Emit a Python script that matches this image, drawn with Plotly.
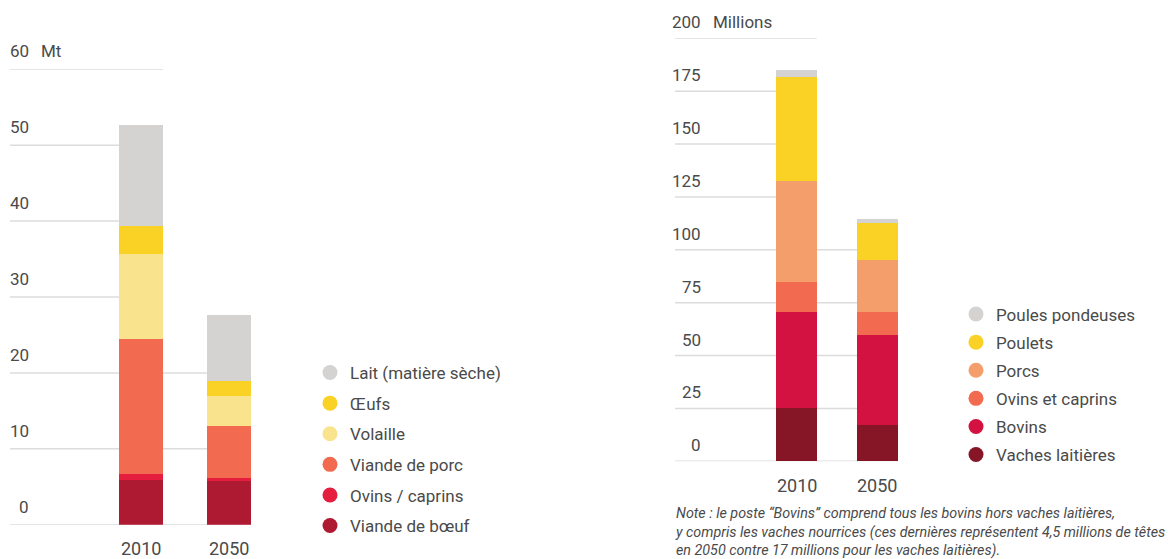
import plotly.graph_objects as go

# --- data -------------------------------------------------------------
years = ["2010", "2050"]

# left panel: production, Mt
prod_names = ["Viande de bœuf", "Ovins / caprins", "Viande de porc",
              "Volaille", "Œufs", "Lait (matière sèche)"]
beef = [5.9, 5.8]
sheep_goat = [0.8, 0.3]
pork = [17.8, 6.9]
poultry = [11.2, 3.9]
eggs = [3.6, 2.0]
milk = [13.3, 8.7]
prod_values = [beef, sheep_goat, pork, poultry, eggs, milk]
prod_ticks = [0, 10, 20, 30, 40, 50, 60]
prod_unit = "Mt"

# right panel: herd size, millions of heads
herd_names = ["Vaches laitières", "Bovins", "Ovins et caprins",
              "Porcs", "Poulets", "Poules pondeuses"]
dairy_cows = [25.0, 17.0]
cattle = [45.5, 42.5]
sheep_goats = [14.5, 11.0]
pigs = [47.5, 24.5]
chickens = [49.0, 17.5]
hens = [3.5, 2.0]
herd_values = [dairy_cows, cattle, sheep_goats, pigs, chickens, hens]
herd_ticks = [0, 25, 50, 75, 100, 125, 150, 175, 200]
herd_unit = "Millions"

note = ("Note : le poste “Bovins” comprend tous les bovins hors vaches laitières,<br>"
        "y compris les vaches nourrices (ces dernières représentent 4,5 millions de têtes<br>"
        "en 2050 contre 17 millions pour les vaches laitières).")

# --- style ------------------------------------------------------------
prod_colors = ["#ae1a32", "#e51d3f", "#f26a4f", "#f9e48d", "#f9d225", "#d5d3d1"]
herd_colors = ["#861626", "#d31242", "#f26a4f", "#f49e6c", "#f9d225", "#d5d3d1"]
FONT = "Roboto, Liberation Sans, sans-serif"
TXT = "#4a4a4a"
GRID = "#dcdcdc"
W, H = 1168, 559
BAR_W = 0.5


def px(x):
    return x / W


def py(y):
    return 1 - y / H


fig = go.Figure()


def add_panel(names, values, colors, ticks, unit, xa, ya, legend, xr, label_x, shift):
    totals = [sum(v[i] for v in values) for i in range(len(years))]
    for name, vals, col in zip(names, values, colors):
        fig.add_trace(go.Bar(x=years, y=vals, name=name, marker=dict(color=col, line_width=0),
                             width=BAR_W, showlegend=False, xaxis=xa, yaxis=ya,
                             hoverinfo="x+y+name"))
    # legend entries with round markers, listed top of stack first
    for name, col in reversed(list(zip(names, colors))):
        fig.add_trace(go.Scatter(x=[None], y=[None], mode="markers", name=name,
                                 marker=dict(size=15, color=col), legend=legend,
                                 legendgroup=name, xaxis=xa, yaxis=ya))
    xref = xa
    yref = ya.replace("axis", "")
    # gridlines stop at the tallest bar that still reaches them
    for t in ticks:
        if t == 0:
            x1 = len(years) - 1 + BAR_W / 2
        else:
            reach = [i for i, tot in enumerate(totals) if tot > t]
            x1 = reach[-1] if reach else BAR_W / 2
        fig.add_shape(type="line", xref=xref, yref=yref, x0=xr[0], x1=x1, y0=t, y1=t,
                      layer="below", line=dict(color=GRID, width=1.5))
        fig.add_annotation(xref="paper", yref=yref, x=label_x, y=t, text=str(t),
                           xanchor="right", yanchor="middle", yshift=shift,
                           showarrow=False, font=dict(size=17, color=TXT, family=FONT))
    fig.add_annotation(xref="paper", yref=yref, x=label_x + px(8), y=ticks[-1], text=unit,
                       xanchor="left", yanchor="middle", yshift=shift,
                       showarrow=False, font=dict(size=17, color=TXT, family=FONT))
    for i, yr in enumerate(years):
        fig.add_annotation(xref=xref, yref=yref, x=i, y=0, text=yr, yshift=-24,
                           xanchor="center", yanchor="middle", showarrow=False,
                           font=dict(size=18, color=TXT, family=FONT))


left_xr = [-1.489, 1.5]
right_xr = [-1.504, 1.5]
add_panel(prod_names, prod_values, prod_colors, prod_ticks, prod_unit,
          "x", "y", "legend", left_xr, px(31), 18)
add_panel(herd_names, herd_values, herd_colors, herd_ticks, herd_unit,
          "x2", "y2", "legend2", right_xr, px(703), 16)

fig.add_annotation(xref="paper", yref="paper", x=px(673), y=py(503), text="<i>" + note + "</i>",
                   xanchor="left", yanchor="top", align="left", showarrow=False,
                   font=dict(size=14.3, color=TXT, family=FONT))

axis_common = dict(showgrid=False, zeroline=False, showticklabels=False, showline=False,
                   fixedrange=True)
legend_common = dict(font=dict(size=17, color=TXT, family=FONT), bgcolor="rgba(0,0,0,0)",
                     traceorder="grouped", itemclick=False,
                     itemdoubleclick=False, xanchor="left", yanchor="top")

fig.update_layout(
    width=W, height=H, margin=dict(l=0, r=0, t=0, b=0),
    paper_bgcolor="white", plot_bgcolor="white",
    barmode="stack", bargap=0.5,
    font=dict(family=FONT, color=TXT),
    xaxis=dict(domain=[px(10), px(273)], range=left_xr, type="category", **axis_common),
    yaxis=dict(domain=[py(524.7), py(69.3)], range=[0, 60], **axis_common),
    xaxis2=dict(domain=[px(675), px(917.7)], range=right_xr, type="category", anchor="y2",
                **axis_common),
    yaxis2=dict(domain=[py(461.3), py(38.3)], range=[0, 200], anchor="x2", **axis_common),
    legend=dict(x=px(310), y=py(355), tracegroupgap=5.5, **legend_common),
    legend2=dict(x=px(956), y=py(296.5), tracegroupgap=3, **legend_common),
)

fig.write_html("out.html", config={"displayModeBar": False},
               post_script="document.body.style.margin = '0px';")
